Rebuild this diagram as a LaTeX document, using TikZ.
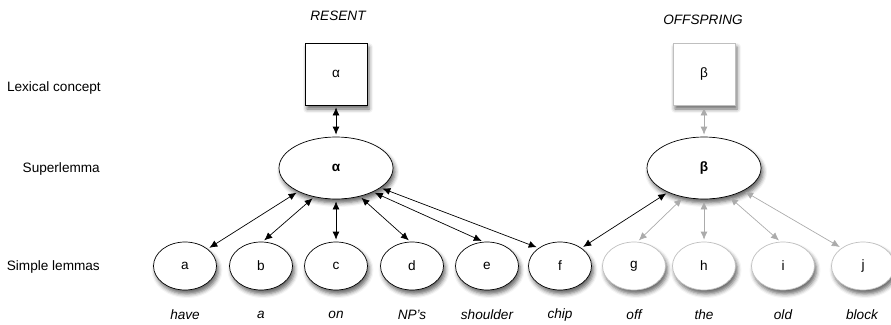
\documentclass[tikz,border=0pt]{standalone}
\usepackage{fontspec}
\setmainfont{Liberation Sans}
\usetikzlibrary{shapes.geometric,arrows.meta,shadows.blur}
\begin{document}
\begin{tikzpicture}[x=1pt,y=-1pt,
  every node/.style={font=\fontsize{13.6}{16}\selectfont, inner sep=0pt},
  shad/.style={blur shadow={shadow xshift=2pt, shadow yshift=-4pt, shadow blur radius=4pt, shadow opacity=60}},
  concept/.style={draw, line width=0.7pt, fill=white, minimum width=62pt, minimum height=62pt, shad},
  superl/.style={draw, line width=0.7pt, fill=white, ellipse, minimum width=114pt, minimum height=62pt, shad},
  lemma/.style={draw, line width=0.7pt, fill=white, ellipse, minimum width=63pt, minimum height=48pt, shad},
  faint/.style={draw=black!25},
  word/.style={font=\fontsize{13.6}{16}\selectfont\itshape},
  lab/.style={anchor=east},
  dbl/.style={{Latex[length=8pt,width=7pt]}-{Latex[length=8pt,width=7pt]}, line width=0.7pt, shorten <=2pt, shorten >=2pt},
  dblg/.style={dbl, draw=black!33},
]
\useasboundingbox (0,0) rectangle (891,324);
% row labels
\node[lab] (l1) at (101,88) {Lexical concept};
\node[lab] (l2) at (100,169) {Superlemma};
\node[lab] (l3) at (100,267) {Simple lemmas};
% headings
\node[word] (h1) at (338,16) {RESENT};
\node[word] (h2) at (703,20) {OFFSPRING};
% concepts
\node[concept] (ca) at (336,74) {α};
\node[concept, faint] (cb) at (704,74) {β};
% superlemmas
\node[superl] (sa) at (336,168) {\textbf{α}};
\node[superl] (sb) at (704,168) {\textbf{β}};
% lemmas
\node[lemma] (a) at (185,266) {a};
\node[lemma] (b) at (261,266) {b};
\node[lemma] (c) at (336,266) {c};
\node[lemma] (d) at (412,266) {d};
\node[lemma] (e) at (487,266) {e};
\node[lemma] (f) at (560,266) {f};
\node[lemma, faint] (g) at (634,266) {g};
\node[lemma, faint] (h) at (704,266) {h};
\node[lemma, faint] (i) at (783,266) {i};
\node[lemma, faint] (j) at (863,266) {j};
% words
\node[word] (wa) at (185,315) {have};
\node[word] (wb) at (261,315) {a};
\node[word] (wc) at (336,315) {on};
\node[word] (wd) at (412,315) {NP's};
\node[word] (we) at (487,315) {shoulder};
\node[word] (wf) at (560,315) {chip};
\node[word] (wg) at (634,315) {off};
\node[word] (wh) at (704,315) {the};
\node[word] (wi) at (783,315) {old};
\node[word] (wj) at (862,315) {block};
% connectors
\draw[dbl] (ca.south) -- (sa.north);
\draw[dblg] (cb.south) -- (sb.north);
\draw[dbl] (sa.212) -- (a.37);
\draw[dbl] (sa.233) -- (b.86);
\draw[dbl] (sa.270) -- (c.90);
\draw[dbl] (sa.310) -- (d.94);
\draw[dbl] (sa.327) -- (e.98);
\draw[dbl] (sa.336) -- (f.140);
\draw[dbl] (sb.214) -- (f.40);
\draw[dblg] (sb.235) -- (g.82);
\draw[dblg] (sb.270) -- (h.90);
\draw[dblg] (sb.311) -- (i.96);
\draw[dblg] (sb.330) -- (j.140);
\end{tikzpicture}
\end{document}
